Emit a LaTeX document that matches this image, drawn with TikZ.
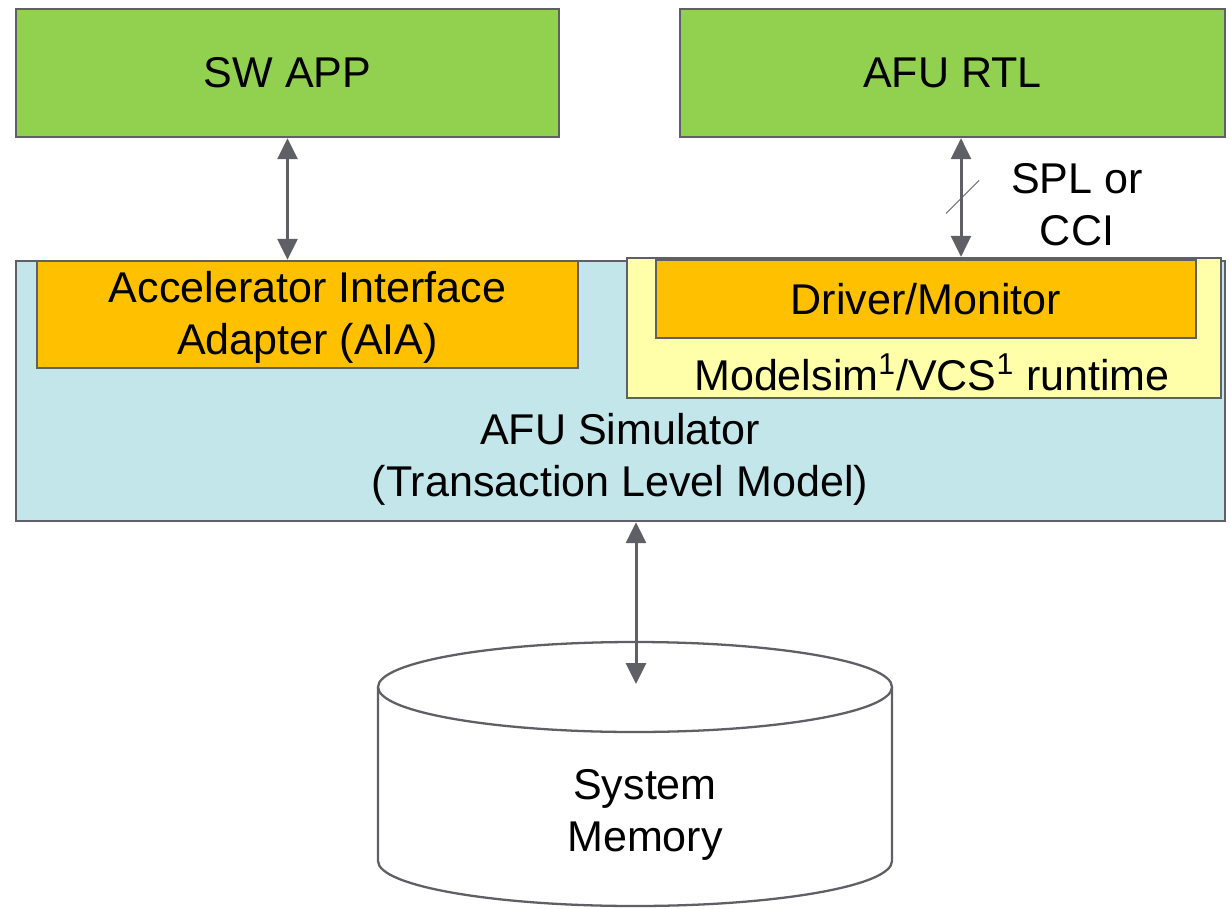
\documentclass[tikz,border=0pt]{standalone}
\usepackage{fontspec}
\setmainfont{Liberation Sans}
\usetikzlibrary{arrows.meta,calc}

\definecolor{appgreen}{HTML}{92D050}
\definecolor{adaptorange}{HTML}{FFC000}
\definecolor{simblue}{HTML}{C2E6EA}
\definecolor{rtyellow}{HTML}{FFFFAA}
\definecolor{edgegray}{HTML}{5F5F66}

\tikzset{
  blok/.style={draw=edgegray, line width=1.3pt, inner sep=0pt, align=center},
  conn/.style={<->, draw=edgegray, line width=1.7pt},
}

\begin{document}
\begin{tikzpicture}[>={Triangle[length=0.42cm,width=0.4cm]},
    every node/.append style={font=\fontsize{24.5}{29.5}\selectfont}]

  \useasboundingbox (0,0) rectangle (24.6,-18.16);

  \begin{scope}   % horni bloky

    \node[blok, fill=appgreen, minimum width=10.86cm, minimum height=2.56cm]
         (swapp) at (5.75,-1.46) {SW APP};
    \node[blok, fill=appgreen, minimum width=10.9cm, minimum height=2.56cm]
         (afurtl) at (19.05,-1.46) {AFU RTL};

  \end{scope}

  \begin{scope}   % simulator

    \node[blok, fill=simblue, minimum width=24.18cm, minimum height=5.2cm]
         (sim) at (12.41,-7.82) {};
    \node[blok, fill=adaptorange, minimum width=10.82cm, minimum height=2.14cm,
          text depth=0.08cm]
         (aia) at (6.15,-6.29) {Accelerator Interface\\Adapter (AIA)};
    \node[blok, fill=rtyellow, minimum width=11.88cm, minimum height=2.8cm]
         (runtime) at (18.48,-6.56) {};
    \node[blok, fill=adaptorange, minimum width=10.8cm, minimum height=1.56cm]
         (driver) at (18.52,-5.98) {Driver/Monitor};
    \node[align=center] (rttxt) at (18.64,-7.44)
         {Modelsim\textsuperscript{1}/VCS\textsuperscript{1} runtime};
    \node[align=center] (simtxt) at (12.4,-9.18)
         {AFU Simulator\\(Transaction Level Model)};

  \end{scope}

  \begin{scope}   % pamet

    \def\Mx{12.7};
    \def\Mt{-13.74};
    \def\Mb{-17.22};
    \def\Rx{5.14};
    \def\Ry{0.9};
    \draw[edgegray, line width=1.3pt, fill=white]
         (\Mx-\Rx,\Mt) -- (\Mx-\Rx,\Mb)
         arc[start angle=180, end angle=360, x radius=\Rx, y radius=\Ry]
         -- (\Mx+\Rx,\Mt);
    \draw[edgegray, line width=1.3pt, fill=white]
         (\Mx,\Mt) ellipse [x radius=\Rx, y radius=\Ry];
    \node[align=center] (mem) at (12.9,-16.3) {System\\Memory};
    \coordinate (memtop) at (12.72,-13.68);

  \end{scope}

  % spoje
  \draw[conn] (swapp.south) -- (swapp.south |- aia.north);
  \coordinate (rtlport) at ([xshift=0.17cm]afurtl.south);
  \draw[conn] (rtlport) -- (rtlport |- runtime.north);
  \draw[edgegray, line width=0.5pt]
       ($(rtlport)!0.5!(rtlport |- runtime.north)$) +(-0.3,-0.32) -- +(0.36,0.34);
  \node[align=center] (bus) at (21.54,-4.1) {SPL or\\CCI};
  \draw[conn] (memtop |- sim.south) -- (memtop);

\end{tikzpicture}
\end{document}
